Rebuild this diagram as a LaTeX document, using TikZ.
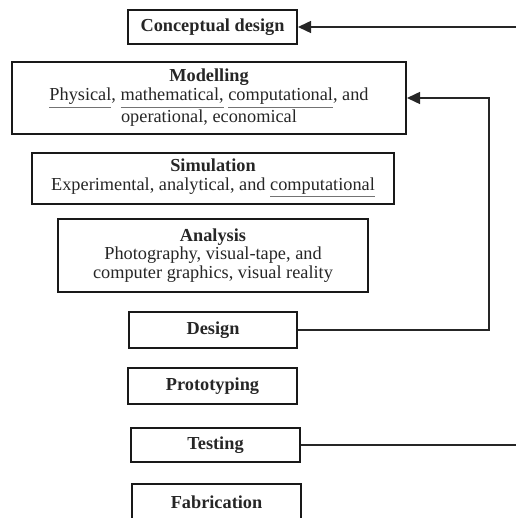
\documentclass[tikz,border=0pt]{standalone}
\usepackage{fontspec}
\setmainfont{Liberation Serif}
\usetikzlibrary{arrows.meta}
\newcommand{\undl}[1]{\textcolor{black!55}{\underline{\vphantom{y}\textcolor{black!85}{#1}}}}
\tikzset{
  stage/.style={draw=black!90, line width=1pt, inner sep=0pt, align=center,
    text=black!85, font=\fontsize{9.15}{9.2}\selectfont},
  link/.style={draw=black!85, line width=0.75pt},
  back/.style={link, -{Triangle[length=6.5pt,width=6pt]}}
}
\begin{document}
\begin{tikzpicture}[x=0.5pt,y=-0.5pt]
\useasboundingbox (0,0) rectangle (516,518);
\clip (0,0) rectangle (516,518);
% stages
\node [stage, minimum width=84.5pt, minimum height=17pt] (concept) at (212.5,27) {\textbf{Conceptual design}};
\node [stage, minimum width=197pt, minimum height=36pt] (model) at (209,98)
	{\textbf{Modelling}\\ \undl{Physical}, \undl{mathematical,} \undl{computational}, and\\ operational, economical};
\node [stage, minimum width=181pt, minimum height=25.5pt] (simul) at (213,178.5)
	{\textbf{Simulation}\\ Experimental, analytical, and \undl{computational}};
\node [stage, minimum width=155pt, minimum height=36.5pt] (anal) at (213,255.5)
	{\textbf{Analysis}\\ Photography, visual-tape, and\\ computer graphics, visual reality};
\node [stage, minimum width=84pt, minimum height=18pt] (design) at (213,330) {\textbf{Design}};
\node [stage, minimum width=84.5pt, minimum height=18pt] (proto) at (212.5,386) {\textbf{Prototyping}};
\node [stage, minimum width=84.5pt, minimum height=17pt] (test) at (215.5,445) {\textbf{Testing}};
\node [stage, minimum width=84.5pt, minimum height=18pt] (fab) at (216.5,502) {\textbf{Fabrication}};
% feedback lines
\coordinate (inlet) at (516,27);
\coordinate (turn) at (489,98);
\coordinate (outlet) at (516,445);
\draw [back] (inlet) -- (concept.east);
\draw [back] (design.east) -| (turn) -- (model.east);
\draw [link] (test.east) -- (outlet);
\end{tikzpicture}
\end{document}
